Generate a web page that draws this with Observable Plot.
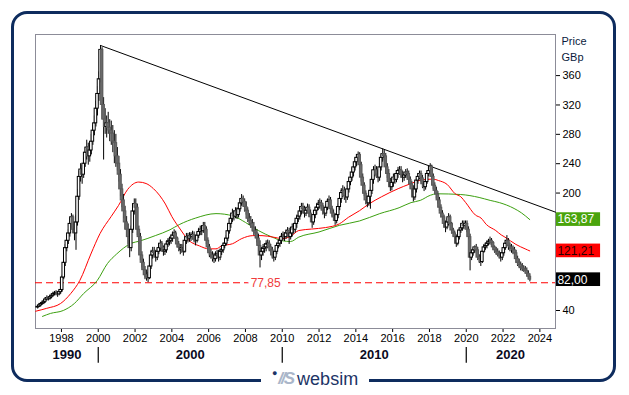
<!DOCTYPE html>
<html><head><meta charset="utf-8">
<script src="https://cdn.jsdelivr.net/npm/d3@7"></script>
<script src="https://cdn.jsdelivr.net/npm/@observablehq/plot@0.6"></script>
<style>
html,body{margin:0;padding:0;background:#fff;}
body{width:629px;height:395px;overflow:hidden;position:relative;font-family:"Liberation Sans",Arial,sans-serif;}
#frame{position:absolute;left:11px;top:11px;width:599px;height:365px;border:3px solid #0e2c5e;border-radius:16px;}
#chart{position:absolute;left:0;top:0;}
#logo{position:absolute;left:261px;top:366px;width:108px;height:26px;background:#fff;display:flex;align-items:center;justify-content:center;}
#logo .dot{color:#1d3466;font-size:9px;margin-right:1px;position:relative;top:-6px;}
#logo .vs{color:#aab6c9;font-style:italic;font-weight:bold;font-size:17px;letter-spacing:-2px;margin-right:4px;}
#logo .w{color:#1d3466;font-size:18px;}
</style></head>
<body>
<div id="frame"></div>
<div id="chart"></div>
<div id="logo"><span class="dot">&#9679;</span><span class="vs">//S</span><span class="w">websim</span></div>
<script>
// Monthly candles, first month = Sep 1996
const startYear = 1996, startMonth = 9, firstOpen = 44;
const closes = [
45,47,49,50,
52,55,57,56,58,60,62,63,64,62,65,68,
85,105,125,135,145,158,167,150,145,160,195,222,
232,225,240,255,262,250,258,270,285,295,315,335,
355,395,320,300,290,295,289,285,281,270,268,250,
240,225,205,190,175,160,150,140,125,150,175,185,
180,150,140,115,105,95,88,85,84,100,115,120,
118,112,120,125,131,125,120,122,130,133,135,138,
142,145,138,130,126,122,125,120,135,140,138,141,
140,143,137,135,142,147,150,148,155,150,135,126,
118,115,112,110,115,117,112,120,122,128,131,138,
148,158,165,172,168,175,170,178,186,192,188,181,
176,165,162,158,153,148,145,138,128,115,120,124,
126,130,131,126,122,115,112,120,128,131,135,140,
142,140,145,148,140,145,153,150,158,165,168,175,
181,178,172,176,180,172,167,160,170,176,180,184,
186,182,176,172,180,188,190,178,172,168,162,170,
181,192,200,203,196,194,205,215,221,228,235,242,
248,252,238,221,210,199,190,186,195,203,218,231,
231,225,221,235,248,253,250,235,226,215,208,214,
221,218,226,230,231,225,221,224,228,226,218,212,
205,194,205,217,222,226,220,212,208,215,226,230,
236,222,210,203,198,190,180,172,167,158,153,160,
167,158,149,145,140,131,140,149,152,158,155,158,
150,140,112,118,122,126,122,112,110,106,120,126,
128,131,133,135,132,126,122,120,117,115,112,118,
125,131,135,128,126,124,122,118,110,105,102,99,
97,96,94,90,86,82];
const highs = [
47,49,51,53,
54,57,60,59,61,63,65,66,67,66,68,72,
88,110,130,142,150,165,172,170,158,170,205,230,
240,238,248,262,272,268,265,280,292,305,325,345,
365,401,398,330,315,305,310,300,298,292,285,280,
262,250,232,212,198,182,168,158,148,155,182,192,
192,185,155,145,120,110,100,95,92,105,122,126,
126,122,124,130,136,134,128,128,135,138,140,143,
147,150,148,140,134,130,130,129,140,145,145,146,
146,148,147,142,146,152,155,155,160,160,154,139,
130,123,120,118,120,122,122,124,127,132,136,142,
152,162,170,178,176,180,180,184,192,198,196,192,
188,180,172,168,164,160,154,150,144,135,126,130,
131,135,136,135,130,126,120,124,132,136,140,145,
147,146,150,153,152,150,158,158,162,170,174,180,
186,186,182,180,185,184,177,170,174,181,186,190,
192,190,186,180,184,192,196,194,182,177,172,175,
185,198,206,210,208,202,210,220,226,234,240,248,
252,256,255,242,226,214,203,196,200,208,222,236,
238,236,230,240,252,260,258,254,240,232,220,218,
226,226,230,235,236,236,230,228,232,233,230,222,
216,210,208,220,226,230,230,224,216,220,230,235,
240,238,226,214,208,202,194,184,176,170,162,165,
172,170,160,152,148,143,142,152,156,162,162,162,
162,154,144,122,125,128,130,126,116,114,122,130,
132,135,137,140,138,134,128,126,124,121,119,122,
128,135,142,138,132,130,128,126,122,114,110,106,
104,101,100,98,94,90];
const lows = [
42,44,45,47,
48,50,53,53,54,56,58,60,60,58,60,62,
65,82,100,120,130,140,152,145,135,122,155,190,
215,212,220,235,245,238,242,252,265,278,290,305,
325,350,300,245,280,275,280,270,265,255,240,235,
230,215,195,180,165,150,140,130,112,120,145,170,
172,142,130,108,98,88,82,80,78,82,96,110,
112,106,108,116,120,120,114,115,118,126,128,130,
133,137,134,125,120,116,118,114,118,130,132,133,
134,136,132,128,132,138,142,142,145,146,130,120,
112,110,106,104,106,110,106,108,115,118,124,128,
134,144,152,160,162,165,164,166,174,182,182,174,
170,160,156,152,147,142,138,132,120,98,108,114,
118,120,124,120,116,110,106,108,116,124,126,130,
135,134,137,140,130,136,140,144,146,152,160,163,
170,172,166,168,172,167,160,152,156,165,170,176,
178,177,170,165,168,176,183,173,166,162,156,158,
165,176,186,194,190,186,190,200,210,216,222,230,
236,242,232,215,202,195,184,180,182,178,198,212,
222,220,214,216,230,242,244,230,220,210,202,203,
208,212,214,220,224,220,214,216,220,220,212,205,
200,188,190,200,212,218,215,206,202,204,212,222,
224,218,205,198,192,185,175,166,162,152,146,150,
155,155,144,140,136,126,128,136,145,148,150,152,
146,136,94,108,114,118,118,108,104,100,104,118,
122,124,128,129,128,122,118,115,113,110,106,108,
114,122,127,122,120,118,116,112,104,100,97,94,
93,92,90,86,82,79];

// Moving averages: [year, value]
const redMA = [[1996.6,39],[1997.2,43],[1997.95,49.5],[1998.5,63],[1999.0,81],[1999.6,117],[2000.1,145],[2000.7,168],[2001.1,183],[2001.6,205],[2002.2,215],[2002.6,213],[2003.0,206],[2003.65,185],[2004.0,168],[2004.45,151],[2004.9,136],[2005.5,128],[2006.0,124],[2006.4,124],[2006.7,128],[2007.3,131],[2007.8,138],[2008.4,142],[2008.9,142],[2009.5,140],[2010.0,138],[2010.45,141],[2010.9,149],[2011.6,151],[2012.35,153],[2013.1,158],[2013.6,167],[2014.2,176],[2014.7,185],[2015.4,195],[2016.3,206],[2016.9,212],[2017.6,218],[2018.2,219],[2018.5,217],[2018.95,212],[2019.4,199],[2019.7,195],[2019.97,187],[2020.5,170],[2020.8,166],[2021.1,157],[2021.6,149],[2021.9,143],[2022.1,140],[2022.7,130],[2023.2,124],[2023.45,121.21]];
const greenMA = [[1996.97,32],[1997.4,36],[1998.1,40],[1998.7,49.5],[1999.2,63],[1999.95,81],[2000.5,104],[2001.0,117],[2001.75,131],[2002.3,135],[2003.1,142],[2003.9,150],[2004.4,157],[2005.3,166],[2006.4,172],[2007.3,169],[2008.0,160],[2008.7,149],[2009.45,140],[2010.0,135],[2010.45,134],[2010.9,140],[2012.0,147],[2013.1,156],[2014.2,162],[2015.3,172],[2016.35,180],[2017.0,187],[2017.5,190],[2018.05,197],[2018.4,199],[2019.7,198],[2020.7,194],[2021.3,190],[2021.8,187],[2022.6,179],[2023.0,173],[2023.45,163.87]];
const trendLine = [[2000.13,401],[2024.85,174]];
const supportLevel = 77.85, supportLabel = "77,85", supportLabelAt = 2009.1;
const lastValues = [
  {v:163.87, label:"163,87", fill:"#4aa40c", color:"#ffffff"},
  {v:121.21, label:"121,21", fill:"#ff0000", color:"#2a0000"},
  {v:82.00,  label:"82,00",  fill:"#000000", color:"#ffffff"}];
const xTicks = [1998,2000,2002,2004,2006,2008,2010,2012,2014,2016,2018,2020,2022,2024];
const yTicks = [40,200,240,280,320,360];
const decades = [{t:1998.3,label:"1990"},{t:2005.0,label:"2000"},{t:2015.0,label:"2010"},{t:2022.4,label:"2020"}];
const decadeSeparators = [2000,2010,2020];
const unitLabels = [{v:406,label:"Price"},{v:384.5,label:"GBp"}];

const xDomain = [1996.59, 2024.85];
const yDomain = [15.5, 416];
const boxX = [2024.9, 2027.3];

const n = Math.min(closes.length, highs.length, lows.length);
const candles = [];
for (let i = 0; i < n; i++) {
  const mi = (startMonth - 1) + i;
  const t = startYear + Math.floor(mi / 12) + ((mi % 12) + 0.5) / 12;
  const open = i === 0 ? firstOpen : closes[i - 1];
  const close = closes[i];
  candles.push({t, open, close,
    high: Math.max(highs[i], open, close),
    low: Math.min(lows[i], open, close),
    up: close >= open});
}

const chart = Plot.plot({
  width: 629, height: 395,
  marginLeft: 35, marginRight: 74, marginTop: 34, marginBottom: 67,
  style: {background: "none", fontFamily: "'Liberation Sans', Arial, sans-serif", fontSize: "11px", color: "#000"},
  x: {domain: xDomain},
  y: {domain: yDomain},
  marks: [
    Plot.axisX({ticks: xTicks, tickFormat: d => String(d), tickSize: 4, tickPadding: 2, label: null, fontSize: 11}),
    Plot.axisY({anchor: "right", ticks: yTicks, tickSize: 4, tickPadding: 3, label: null, fontSize: 11}),
    Plot.frame({stroke: "#8c8c98"}),
    Plot.ruleY([supportLevel], {stroke: "#ff0000", strokeDasharray: "7,4", strokeWidth: 1.1}),
    Plot.text([supportLevel], {x: () => supportLabelAt, y: d => d, text: () => supportLabel, fill: "#f03c3c", stroke: "#fff", strokeWidth: 9, fontSize: 12}),
    Plot.line(greenMA, {x: d => d[0], y: d => d[1], stroke: "#3ca010", strokeWidth: 1, curve: "monotone-x"}),
    Plot.line(redMA, {x: d => d[0], y: d => d[1], stroke: "#ff0000", strokeWidth: 1, curve: "monotone-x"}),
    Plot.line(trendLine, {x: d => d[0], y: d => d[1], stroke: "#000", strokeWidth: 1}),
    Plot.ruleX(candles, {x: "t", y1: "low", y2: "high", stroke: "#000", strokeWidth: 1}),
    Plot.rect(candles, {x1: d => d.t - 0.07, x2: d => d.t + 0.07, y1: "open", y2: "close",
      fill: d => d.up ? "#ffffff" : "#6a6a6a", stroke: d => d.up ? "#000000" : "#5a5a5a", strokeWidth: 1}),
    Plot.rect(lastValues, {x1: () => boxX[0], x2: () => boxX[1], y1: d => d.v - 9.3, y2: d => d.v + 9.3, fill: d => d.fill}),
    Plot.text(lastValues, {x: () => boxX[0], y: "v", text: "label", fill: d => d.color, textAnchor: "start", dx: 1, fontSize: 12}),
    Plot.text(unitLabels, {x: () => xDomain[1], y: "v", text: "label", textAnchor: "start", dx: 6, fontSize: 11, fill: "#0a1a3c"}),
    Plot.ruleX(decadeSeparators, {x: d => d, y1: () => -10.5, y2: () => -32, stroke: "#000", strokeWidth: 1.2}),
    Plot.text(decades, {x: "t", y: () => -20.5, text: "label", fontWeight: "bold", fontSize: 13, fill: "#0a0a1e"})
  ]
});
document.getElementById("chart").appendChild(chart);
</script>
</body></html>
